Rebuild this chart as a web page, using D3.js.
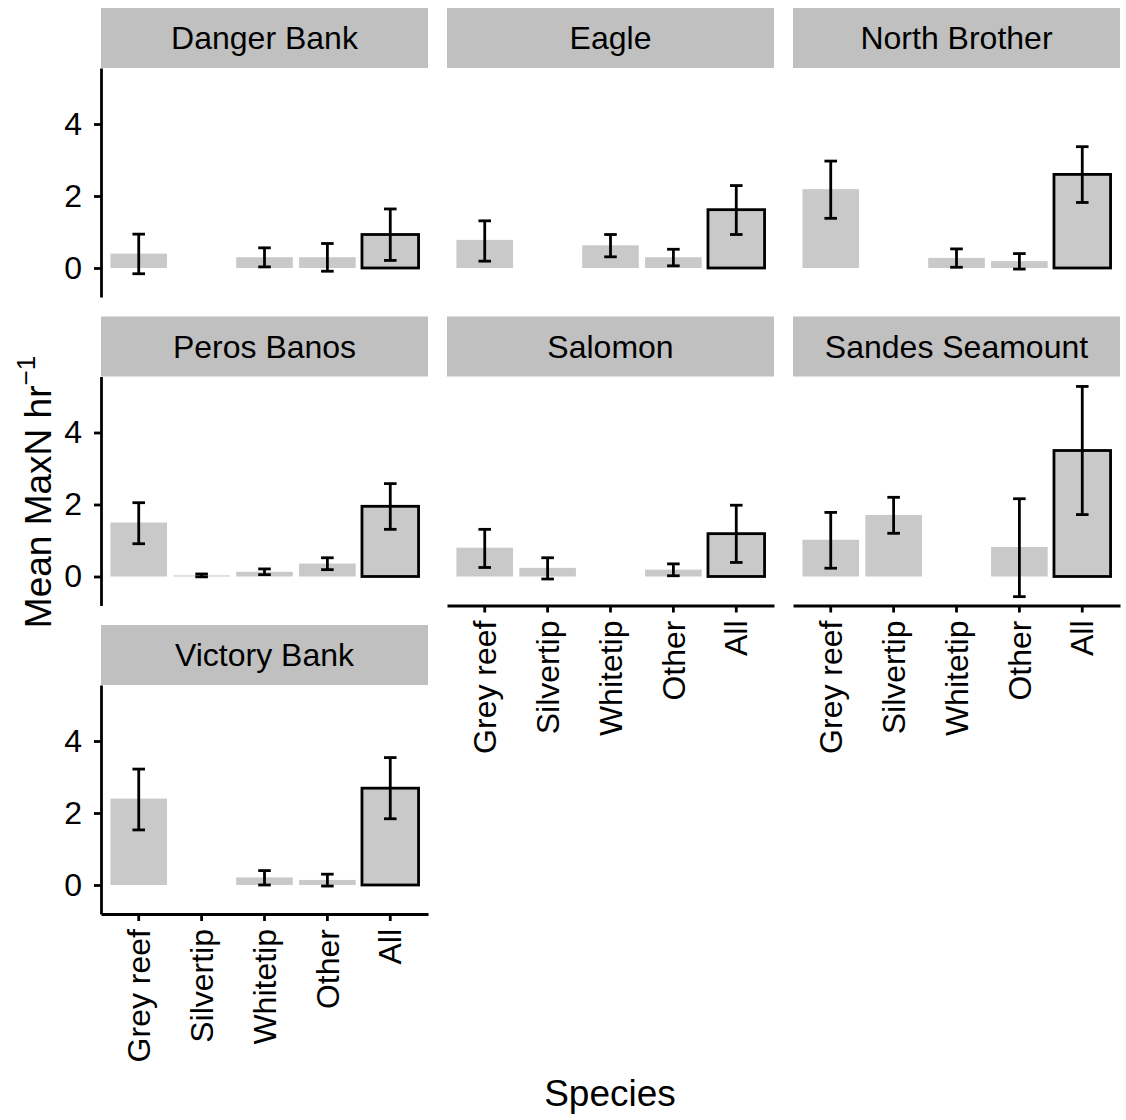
<!DOCTYPE html>
<html>
<head>
<meta charset="utf-8">
<script src="https://cdn.jsdelivr.net/npm/d3@7"></script>
<style>
  body { margin: 0; background: #fff; }
  text { font-family: "Liberation Sans", Arial, Helvetica, sans-serif; fill: #000; }
</style>
</head>
<body>
<div id="draw"></div>
<script>
// facets and categories
var sites = ["Danger Bank", "Eagle", "North Brother", "Peros Banos", "Salomon", "Sandes Seamount", "Victory Bank"];
var species = ["Grey reef", "Silvertip", "Whitetip", "Other", "All"];
var yTicks = [0, 2, 4];

// mean MaxN per hour, one row per site (null = no record)
var means = [
    [0.40, null, 0.30, 0.30, 0.93],
    [0.78, null, 0.63, 0.30, 1.62],
    [2.19, null, 0.28, 0.19, 2.60],
    [1.50, 0.03, 0.13, 0.36, 1.95],
    [0.80, 0.24, null, 0.19, 1.19],
    [1.02, 1.71, null, 0.82, 3.50],
    [2.40, null, 0.21, 0.14, 2.69]
];
// error bar ends
var lower = [
    [-0.16, null, 0.03, -0.09, 0.21],
    [0.19, null, 0.31, 0.06, 0.93],
    [1.38, null, 0.02, -0.03, 1.82],
    [0.91, -0.01, 0.05, 0.19, 1.31],
    [0.25, -0.07, null, 0.02, 0.39],
    [0.23, 1.20, null, -0.56, 1.72],
    [1.53, null, 0.00, -0.03, 1.84]
];
var upper = [
    [0.94, null, 0.56, 0.68, 1.64],
    [1.31, null, 0.93, 0.52, 2.29],
    [2.97, null, 0.53, 0.40, 3.37],
    [2.05, 0.07, 0.21, 0.52, 2.58],
    [1.31, 0.52, null, 0.35, 1.98],
    [1.78, 2.20, null, 2.16, 5.28],
    [3.22, null, 0.40, 0.30, 3.54]
];

var W = 1126, H = 1120;
var colX = [101, 447, 793], panelW = 327;
var rowY = [8, 316.5, 625], stripH = 60, panelH = 229;
var barFill = "#c9c9c9", stripFill = "#c0c0c0", lw = 2.8;

var svg = d3.select("#draw").append("svg").attr("width", W).attr("height", H);

var x = d3.scaleBand().domain(species).range([0, panelW]).paddingInner(0.1).paddingOuter(0.15);
var y = d3.scaleLinear().domain([-0.806, 5.556]).range([panelH, 0]);
var capW = x.step() * 0.2;

sites.forEach(function(site, i){
    var col = i % 3, row = Math.floor(i / 3);
    var g = svg.append("g").attr("transform", "translate(" + colX[col] + "," + rowY[row] + ")");

    // strip
    g.append("rect").attr("width", panelW).attr("height", stripH).attr("fill", stripFill);
    g.append("text").attr("x", panelW / 2).attr("y", 41).attr("text-anchor", "middle")
        .attr("font-size", 32).text(site);

    var p = g.append("g").attr("transform", "translate(0," + stripH + ")");

    var rows = species.map(function(s, j){
        return { sp: s, m: means[i][j], lo: lower[i][j], hi: upper[i][j] };
    }).filter(function(d){ return d.m !== null; });

    p.selectAll("rect.bar").data(rows).enter().append("rect")
        .attr("class", "bar")
        .attr("x", function(d){ return x(d.sp); })
        .attr("width", x.bandwidth())
        .attr("y", function(d){ return y(Math.max(0, d.m)); })
        .attr("height", function(d){ return Math.abs(y(0) - y(d.m)); })
        .attr("fill", barFill)
        .attr("stroke", function(d){ return d.sp === "All" ? "#000" : "none"; })
        .attr("stroke-width", lw);

    var eb = p.selectAll("g.err").data(rows.filter(function(d){ return d.lo !== null; })).enter()
        .append("g").attr("class", "err")
        .attr("transform", function(d){ return "translate(" + (x(d.sp) + x.bandwidth() / 2) + ",0)"; })
        .attr("stroke", "#000").attr("stroke-width", lw);
    eb.append("line").attr("y1", function(d){ return y(d.lo); }).attr("y2", function(d){ return y(d.hi); });
    eb.append("line").attr("x1", -capW / 2).attr("x2", capW / 2)
        .attr("y1", function(d){ return y(d.lo); }).attr("y2", function(d){ return y(d.lo); });
    eb.append("line").attr("x1", -capW / 2).attr("x2", capW / 2)
        .attr("y1", function(d){ return y(d.hi); }).attr("y2", function(d){ return y(d.hi); });

    // y axis on first column
    if (col === 0) {
        var ya = p.append("g").call(d3.axisLeft(y).tickValues(yTicks).tickFormat(d3.format("d"))
            .tickSize(7).tickSizeOuter(0).tickPadding(12));
        ya.attr("font-family", null);
        ya.select(".domain").attr("stroke-width", lw);
        ya.selectAll(".tick line").attr("stroke-width", lw);
        ya.selectAll(".tick text").attr("font-size", 32).attr("font-family", null);
    }

    // x axis on bottom panel of each column
    var isBottom = (i + 3 >= sites.length);
    if (isBottom) {
        var xa = p.append("g").attr("transform", "translate(0," + panelH + ")")
            .call(d3.axisBottom(x).tickSize(7).tickSizeOuter(0));
        xa.attr("font-family", null);
        xa.select(".domain").attr("stroke-width", lw);
        xa.selectAll(".tick line").attr("stroke-width", lw);
        xa.selectAll(".tick text")
            .attr("font-size", 32)
            .attr("font-family", null)
            .attr("text-anchor", "end")
            .attr("transform", "translate(0,15) rotate(-90)")
            .attr("x", 0).attr("y", 0).attr("dy", "0.35em");
    }
});

// axis titles
svg.append("text").attr("x", 610).attr("y", 1106).attr("text-anchor", "middle")
    .attr("font-size", 37).text("Species");

var yt = svg.append("text").attr("transform", "translate(51,492) rotate(-90)")
    .attr("text-anchor", "middle").attr("font-size", 37);
yt.append("tspan").text("Mean MaxN hr");
yt.append("tspan").attr("font-size", 26).attr("dy", "-0.6em").text("\u22121");
</script>
</body>
</html>
